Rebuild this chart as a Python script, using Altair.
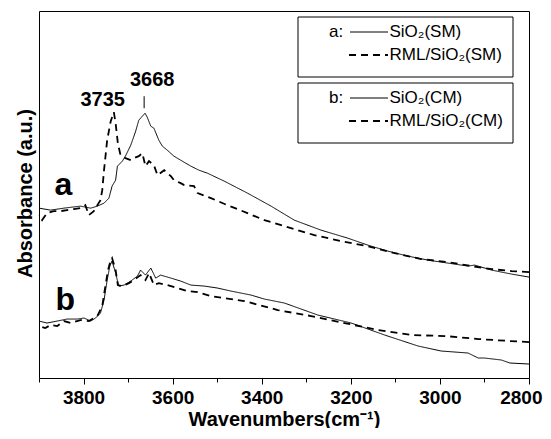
import altair as alt
import pandas as pd

# ---------------- data ----------------
# a: SiO2(SM)  (solid)
a_sm_wn = [3900, 3874, 3844, 3807, 3784, 3769, 3754, 3743, 3736, 3728,
           3724, 3713, 3706, 3694, 3683, 3676, 3668, 3662, 3657, 3649,
           3642, 3631, 3623, 3612, 3597, 3582, 3559, 3541, 3522, 3484,
           3432, 3379, 3327, 3267, 3207, 3162, 3117, 3072, 3027, 2982,
           2937, 2922, 2907, 2884, 2862, 2839, 2800]
a_sm_abs = [1.70, 1.68, 1.70, 1.72, 1.70, 1.72, 1.75, 1.80, 1.92, 1.98,
            2.12, 2.17, 2.22, 2.33, 2.47, 2.58, 2.62, 2.65, 2.61, 2.52,
            2.50, 2.38, 2.32, 2.28, 2.22, 2.18, 2.12, 2.08, 2.05, 1.97,
            1.85, 1.72, 1.58, 1.48, 1.40, 1.33, 1.27, 1.22, 1.18, 1.15,
            1.12, 1.13, 1.11, 1.08, 1.06, 1.04, 1.01]

# a: RML/SiO2(SM)  (dashed)
a_rml_wn = [3900, 3893, 3882, 3867, 3852, 3837, 3822, 3807, 3796, 3788,
            3777, 3769, 3762, 3758, 3754, 3747, 3739, 3732, 3728, 3723,
            3717, 3706, 3694, 3687, 3676, 3668, 3661, 3653, 3642, 3634,
            3619, 3604, 3597, 3582, 3574, 3552, 3544, 3514, 3477, 3432,
            3394, 3342, 3282, 3222, 3162, 3102, 3042, 2982, 2929, 2884,
            2839, 2800]
a_rml_abs = [1.63, 1.58, 1.65, 1.67, 1.67, 1.68, 1.69, 1.70, 1.73, 1.63,
             1.67, 1.73, 1.78, 1.88, 2.08, 2.38, 2.57, 2.66, 2.55, 2.35,
             2.23, 2.20, 2.18, 2.20, 2.22, 2.25, 2.12, 2.17, 2.13, 2.03,
             2.08, 2.02, 1.98, 1.95, 1.93, 1.92, 1.85, 1.80, 1.73, 1.65,
             1.58, 1.51, 1.43, 1.37, 1.32, 1.25, 1.19, 1.16, 1.12, 1.09,
             1.07, 1.06]

# b: SiO2(CM)  (solid)
b_cm_wn = [3900, 3882, 3859, 3837, 3814, 3799, 3784, 3773, 3762, 3754,
           3747, 3741, 3736, 3728, 3721, 3709, 3694, 3679, 3672, 3661,
           3649, 3638, 3627, 3604, 3582, 3559, 3529, 3499, 3469, 3424,
           3394, 3349, 3274, 3199, 3124, 3049, 2997, 2937, 2914, 2900,
           2862, 2843, 2800]
b_cm_abs = [0.57, 0.55, 0.57, 0.59, 0.59, 0.60, 0.57, 0.60, 0.65, 0.78,
            0.98, 1.12, 1.17, 1.05, 0.92, 0.93, 0.97, 1.02, 1.08, 1.03,
            1.10, 1.00, 1.03, 1.00, 0.97, 0.93, 0.92, 0.90, 0.87, 0.83,
            0.79, 0.75, 0.63, 0.55, 0.43, 0.32, 0.27, 0.25, 0.20, 0.20,
            0.18, 0.15, 0.14]

# b: RML/SiO2(CM)  (dashed)
b_rml_wn = [3900, 3886, 3874, 3859, 3844, 3829, 3807, 3788, 3769, 3758,
            3751, 3745, 3739, 3736, 3728, 3723, 3713, 3698, 3687, 3672,
            3661, 3653, 3642, 3631, 3612, 3589, 3567, 3544, 3514, 3439,
            3364, 3289, 3214, 3139, 3064, 2989, 2914, 2843, 2800]
b_rml_abs = [0.52, 0.50, 0.53, 0.52, 0.57, 0.55, 0.58, 0.57, 0.62, 0.72,
             0.92, 1.08, 1.18, 1.20, 1.08, 0.93, 0.92, 0.95, 0.98, 1.03,
             0.98, 1.05, 0.93, 0.95, 0.93, 0.90, 0.87, 0.86, 0.82, 0.77,
             0.68, 0.62, 0.55, 0.48, 0.43, 0.42, 0.39, 0.37, 0.36]

series_names = ["SiO2(SM)", "RML/SiO2(SM)", "SiO2(CM)", "RML/SiO2(CM)"]
series_styles = ["solid", "dashed", "solid", "dashed"]

group_text = ["a", "b"]
group_wn = [3845, 3841]
group_abs = [1.93, 0.78]

peak_text = ["3735", "3668"]
peak_wn = [3757, 3646]
peak_abs = [2.78, 2.98]

marker_wn = [3664]
marker_abs_lo = [2.70]
marker_abs_hi = [2.82]

legend_heads = ["a:", "b:"]
legend_labels = ["SiO₂(SM)", "RML/SiO₂(SM)", "SiO₂(CM)", "RML/SiO₂(CM)"]

all_ticks = list(range(2800, 3901, 100))

# ---------------- build tables ----------------
frames = []
for name, style, wn, ab in zip(series_names, series_styles,
                               [a_sm_wn, a_rml_wn, b_cm_wn, b_rml_wn],
                               [a_sm_abs, a_rml_abs, b_cm_abs, b_rml_abs]):
    frames.append(pd.DataFrame({"wn": wn, "abs": ab, "series": name, "style": style}))
df = pd.concat(frames, ignore_index=True)

W, H = 490, 367
FONT = "Liberation Sans"

xscale = alt.Scale(domain=[2800, 3900], reverse=True, nice=False, zero=False)
yscale = alt.Scale(domain=[0, 3.673], nice=False, zero=False)

x_axis = alt.Axis(
    values=all_ticks, format="d",
    labelExpr="datum.value % 200 === 0 ? datum.label : ''",
    tickSize={"condition": {"test": "datum.value % 200 === 0", "value": 6}, "value": 4},
    domain=False, grid=False, ticks=True, tickColor="black", tickWidth=1,
    labelFont=FONT, labelFontSize=19, labelFontWeight="bold", labelColor="black",
    labelPadding=4, labelFlush=True, labelFlushOffset=13, labelOverlap=False,
    title="Wavenumbers(cm⁻¹)", titleFont=FONT, titleFontSize=20,
    titleFontWeight="bold", titleColor="black", titleY=41, titleBaseline="middle",
)
y_axis = alt.Axis(
    labels=False, ticks=False, domain=False, grid=False,
    title="Absorbance (a.u.)", titleFont=FONT, titleFontSize=20,
    titleFontWeight="bold", titleColor="black", titleX=-14, titleY=182,
    titleAngle=270, titleBaseline="middle", titleAlign="center",
)

lines = alt.Chart(df).mark_line(color="black").encode(
    x=alt.X("wn:Q", scale=xscale, axis=x_axis),
    y=alt.Y("abs:Q", scale=yscale, axis=y_axis),
    detail="series:N",
    strokeDash=alt.StrokeDash("style:N", scale=alt.Scale(domain=["solid", "dashed"], range=[[1, 0], [7, 5]]), legend=None),
    strokeWidth=alt.StrokeWidth("style:N", scale=alt.Scale(domain=["solid", "dashed"], range=[1.0, 1.8]), legend=None),
    order="wn:Q",
)

group_df = pd.DataFrame({"t": group_text, "wn": group_wn, "abs": group_abs})
group_lbl = alt.Chart(group_df).mark_text(
    font=FONT, fontSize=32, fontWeight="bold", color="black", align="center", baseline="middle"
).encode(x=alt.X("wn:Q", scale=xscale), y=alt.Y("abs:Q", scale=yscale), text="t:N")

peak_df = pd.DataFrame({"t": peak_text, "wn": peak_wn, "abs": peak_abs})
peak_lbl = alt.Chart(peak_df).mark_text(
    font=FONT, fontSize=20, fontWeight="bold", color="black", align="center", baseline="middle"
).encode(x=alt.X("wn:Q", scale=xscale), y=alt.Y("abs:Q", scale=yscale), text="t:N")

marker_df = pd.DataFrame({"wn": marker_wn, "lo": marker_abs_lo, "hi": marker_abs_hi})
marker = alt.Chart(marker_df).mark_rule(color="black", strokeWidth=1).encode(
    x=alt.X("wn:Q", scale=xscale), y=alt.Y("lo:Q", scale=yscale), y2="hi:Q")

# ---------------- legend (drawn) ----------------
one = pd.DataFrame({"k": [0]})
legend_layers = []
box_tops = [6, 72]
box_h = 60
row_offsets = [15, 38]
for gi in range(2):
    top = box_tops[gi]
    legend_layers.append(alt.Chart(one).mark_rect(fillOpacity=0, stroke="black", strokeWidth=1).encode(
        x=alt.value(259), x2=alt.value(474), y=alt.value(top), y2=alt.value(top + box_h)))
    legend_layers.append(alt.Chart(one).mark_text(
        text=legend_heads[gi], font=FONT, fontSize=17, color="black", align="left", baseline="middle"
    ).encode(x=alt.value(290), y=alt.value(top + row_offsets[0])))
    for ri in range(2):
        yy = top + row_offsets[ri]
        dash = [1, 0] if ri == 0 else [7, 5]
        sw = 1.0 if ri == 0 else 1.8
        legend_layers.append(alt.Chart(one).mark_rule(color="black", strokeWidth=sw, strokeDash=dash).encode(
            x=alt.value(311 if ri == 0 else 310), x2=alt.value(349), y=alt.value(yy)))
        legend_layers.append(alt.Chart(one).mark_text(
            text=legend_labels[gi * 2 + ri], font=FONT, fontSize=17, color="black",
            align="left", baseline="middle"
        ).encode(x=alt.value(350.5), y=alt.value(yy)))

chart = alt.layer(lines, group_lbl, peak_lbl, marker, *legend_layers).properties(
    width=W, height=H,
    autosize=alt.AutoSizeParams(type="none"),
    padding={"left": 31, "top": 3, "right": 14, "bottom": 50},
).configure_view(stroke="black", strokeWidth=1)

chart.save("out.html", embed_options={"renderer": "svg", "actions": False})
